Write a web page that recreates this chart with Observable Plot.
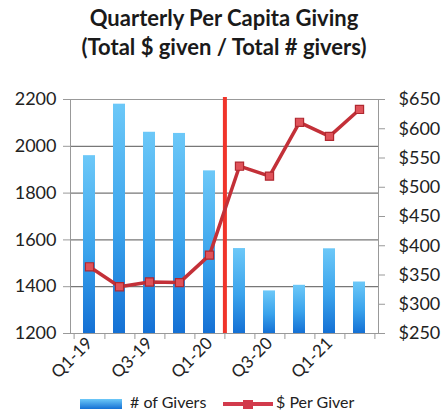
<!DOCTYPE html>
<html>
<head>
<meta charset="utf-8">
<script src="https://cdn.jsdelivr.net/npm/d3@7"></script>
<script src="https://cdn.jsdelivr.net/npm/@observablehq/plot@0.6"></script>
<style>
  html, body { margin: 0; padding: 0; background: #fff; }
  body { width: 442px; height: 412px; overflow: hidden; font-family: Lato, "Open Sans", sans-serif; color: #222; }
  #title { height: 70px; text-align: center; font-weight: bold; font-size: 22px; line-height: 29px; padding-top: 3px; box-sizing: border-box; color: #1a1a1a; padding-left: 6px; }
  #chart svg { display: block; }
  #legend { position: absolute; top: 390px; left: 0; width: 442px; height: 22px; }
</style>
</head>
<body>
<div id="title">Quarterly Per Capita Giving<br>(Total $ given / Total # givers)</div>
<div id="chart"></div>
<div id="legend">
  <svg width="442" height="22">
    <defs>
      <linearGradient id="lg" x1="0" y1="0" x2="0" y2="1">
        <stop offset="0" stop-color="#6cc8f8"/>
        <stop offset="1" stop-color="#1470d4"/>
      </linearGradient>
    </defs>
    <rect x="80" y="9" width="42" height="10" fill="url(#lg)"/>
    <text x="130" y="18" font-size="16" fill="#222" font-family="Lato, sans-serif"># of Givers</text>
    <line x1="223" y1="14" x2="273" y2="14" stroke="#d23a4c" stroke-width="4"/>
    <rect x="243" y="10" width="10" height="9" fill="#d23a4c"/>
    <text x="276" y="18" font-size="16" fill="#222" font-family="Lato, sans-serif">$ Per Giver</text>
  </svg>
</div>
<script>
// ---- data ----
const quarters = ["Q1-19","Q2-19","Q3-19","Q4-19","Q1-20","Q2-20","Q3-20","Q4-20","Q1-21","Q2-21"];
const givers = [1960, 2180, 2060, 2055, 1895, 1563, 1382, 1406, 1562, 1420];
const perGiver = [364, 330, 338, 337, 384, 536, 519, 611, 587, 633];
const xTickLabels = ["Q1-19","Q3-19","Q1-20","Q3-20","Q1-21"];
const leftTicks = [1200, 1400, 1600, 1800, 2000, 2200];
const rightTicks = [250, 300, 350, 400, 450, 500, 550, 600, 650];
const eventQuarter = "Q1-20";

// map right-axis dollars onto the left axis domain
const leftDomain = [1200, 2200];
const rightDomain = [250, 650];
const toLeft = v => leftDomain[0] + (v - rightDomain[0]) * (leftDomain[1] - leftDomain[0]) / (rightDomain[1] - rightDomain[0]);
const toRight = v => rightDomain[0] + (v - leftDomain[0]) * (rightDomain[1] - rightDomain[0]) / (leftDomain[1] - leftDomain[0]);

const rows = quarters.map((q, i) => ({q, givers: givers[i], per: perGiver[i]}));

const W = 442, mL = 70, mR = 64;
const step = (W - mL - mR) / quarters.length;

const defs = () => {
  const d = d3.create("svg:defs");
  const g = d.append("linearGradient").attr("id", "barGrad").attr("x1", 0).attr("y1", 0).attr("x2", 0).attr("y2", 1);
  g.append("stop").attr("offset", 0).attr("stop-color", "#6cc8f8");
  g.append("stop").attr("offset", 0.55).attr("stop-color", "#3aa3ec");
  g.append("stop").attr("offset", 1).attr("stop-color", "#1470d4");
  return d.node();
};

const chart = Plot.plot({
  width: W,
  height: 313,
  marginLeft: mL,
  marginRight: mR,
  marginTop: 29,
  marginBottom: 50,
  style: {fontFamily: "Lato, sans-serif", fontSize: "18px", color: "#222", background: "#fff"},
  x: {domain: quarters, paddingInner: 0.6, paddingOuter: 0.3},
  y: {domain: leftDomain},
  marks: [
    defs,
    Plot.gridY(leftTicks, {stroke: "#777", strokeOpacity: 1, strokeWidth: 1.2}),
    Plot.barY(rows, {x: "q", y1: leftDomain[0], y2: "givers", fill: "url(#barGrad)"}),
    Plot.frame({stroke: "#999"}),
    Plot.ruleX([quarters[0]], {x: d => d, dx: -step / 2, stroke: "#999", insetTop: 234, insetBottom: -6}),
    Plot.ruleX(quarters, {x: d => d, dx: step / 2, stroke: "#999", insetTop: 234, insetBottom: -6}),
    Plot.axisY({anchor: "left", ticks: leftTicks, tickFormat: d => String(d), tickSize: 7, tickPadding: 7, stroke: "#999", fontSize: 18, label: null}),
    Plot.axisY({anchor: "right", ticks: rightTicks.map(toLeft), tickFormat: d => "$" + Math.round(toRight(d)), tickSize: 6, tickPadding: 14, stroke: "#999", fontSize: 18, label: null}),
    Plot.axisX({ticks: xTickLabels, tickSize: 0, tickRotate: -45, tickPadding: 7, fontSize: 17, label: null}),
    Plot.ruleX([eventQuarter], {x: d => d, dx: step / 2, stroke: "#f0342a", strokeWidth: 4, insetTop: -2}),
    Plot.line(rows, {x: "q", y: d => toLeft(d.per), stroke: "#c33038", strokeWidth: 3.5}),
    Plot.dot(rows, {x: "q", y: d => toLeft(d.per), symbol: "square", r: 4.6, fill: "#e0535a", stroke: "#b02830", strokeWidth: 1.2})
  ]
});
document.getElementById("chart").appendChild(chart);
</script>
</body>
</html>
